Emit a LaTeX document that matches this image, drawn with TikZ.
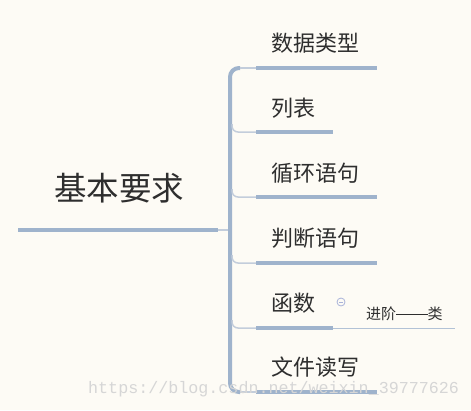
\documentclass[tikz,border=0pt]{standalone}
\usepackage{fontspec}
\usetikzlibrary{calc}
\newfontfamily\cjk{Noto Sans CJK SC}
\newfontfamily\wmfont{Liberation Mono}
\definecolor{bgc}{HTML}{FDFBF5}
\definecolor{barc}{HTML}{9FB3CC}
\definecolor{thinc}{HTML}{C3CDDB}
\definecolor{txtc}{HTML}{2E2E2E}
\definecolor{iconc}{HTML}{A9B3D9}
\definecolor{wmc}{HTML}{D6D6D6}
\tikzset{
  leaf/.style={anchor=west,inner sep=0pt,text=txtc,font=\cjk\fontsize{22}{22}\selectfont},
  rootlbl/.style={anchor=center,inner sep=0pt,text=txtc,font=\cjk\fontsize{32.5}{32.5}\selectfont},
  note/.style={anchor=west,inner sep=0pt,text=txtc,font=\cjk\fontsize{15}{15}\selectfont},
  thick bar/.style={draw=barc,line width=4pt},
  thin link/.style={draw=thinc,line width=1.5pt},
  thin note/.style={draw=barc!80,line width=1pt},
}
\begin{document}
\begin{tikzpicture}[x=1pt,y=-1pt]
\fill[bgc] (0,0) rectangle (471,410);
\useasboundingbox (0,0) rectangle (471,410);

% root
\node[rootlbl] (root) at (119,188) {基本要求};
\coordinate (r0) at (18,230);
\coordinate (r1) at (218,230);
\coordinate (r2) at (230,230);
\draw[thick bar] (r0) -- (r1);
\draw[thin link] (r1) -- (r2);

% leaves
\node[leaf] (n1) at (271,43) {数据类型};
\node[leaf] (n2) at (271,108) {列表};
\node[leaf] (n3) at (271,173) {循环语句};
\node[leaf] (n4) at (271,238) {判断语句};
\node[leaf] (n5) at (271,303) {函数};
\node[leaf] (n6) at (271,367) {文件读写};

% underline coordinates
\coordinate (s1) at (256,68);  \coordinate (e1) at (377,68);
\coordinate (s2) at (256,132); \coordinate (e2) at (333,132);
\coordinate (s3) at (256,197); \coordinate (e3) at (377,197);
\coordinate (s4) at (256,263); \coordinate (e4) at (377,263);
\coordinate (s5) at (256,328); \coordinate (e5) at (333,328);
\coordinate (s6) at (256,392); \coordinate (e6) at (377,392);

% trunk with rounded ends
\coordinate (tt) at (230,68);
\coordinate (tb) at (230,392);
\draw[draw=barc,line width=4pt,rounded corners=9pt] (240,68) -- (tt) -- (tb) -- (240,392);
\draw[thin link] (240,68) -- (s1);
\draw[thin link] (240,392) -- (s6);

% middle branches
\foreach \s in {s2,s3,s4,s5}{
  \draw[thin link,rounded corners=6pt] ($(\s)+(-24,-8)$) -- ($(\s)+(-24,0)$) -- (\s);
}

% underlines
\draw[thick bar] (s1) -- (e1);
\draw[thick bar] (s2) -- (e2);
\draw[thick bar] (s3) -- (e3);
\draw[thick bar] (s4) -- (e4);
\draw[thick bar] (s5) -- (e5);
\draw[thick bar] (s6) -- (e6);

% sub note of 函数
\coordinate (e7) at (455,328);
\draw[thin note] (e5) -- (e7);
\node[note] (sub) at (366,314) {进阶\rule[0.33em]{2.1em}{0.06em}类};
\node[circle,draw=iconc,line width=0.8pt,minimum size=8pt,inner sep=0pt] (icon) at (341,302) {};
\draw[iconc,line width=0.8pt] ($(icon.center)+(-2,0)$) -- ($(icon.center)+(2,0)$);

% watermark
\node[anchor=west,inner sep=0pt,text=wmc,font=\wmfont\fontsize{16.7}{16.7}\selectfont] (wm) at (88,389) {https://blog.csdn.net/weixin\_39777626};
\end{tikzpicture}
\end{document}
